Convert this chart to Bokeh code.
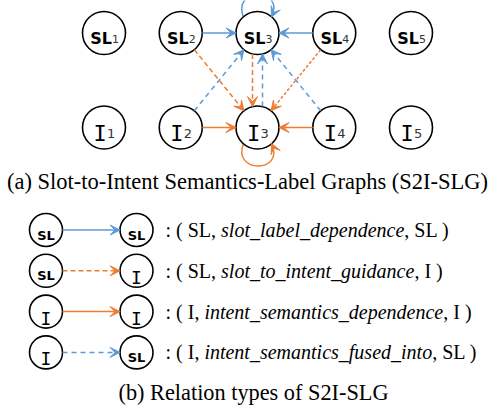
import math
from bokeh.plotting import figure
from bokeh.models import Range1d, Arrow, VeeHead
from bokeh.core.properties import value
from bokeh.embed import file_html
from bokeh.resources import INLINE

# ---------------- data ----------------
top_labels = ["SL", "SL", "SL", "SL", "SL"]
bottom_labels = ["I", "I", "I", "I", "I"]
subscripts = ["1", "2", "3", "4", "5"]

# edges: (source, target, relation)  nodes named "SL<i>" / "I<i>"
edge_src = ["SL2", "SL4", "I2", "I4", "SL2", "SL3", "SL4", "I2", "I3", "I4"]
edge_dst = ["SL3", "SL3", "I3", "I3", "I3", "I3", "I3", "SL3", "SL3", "SL3"]
edge_rel = ["sl_dep", "sl_dep", "int_dep", "int_dep", "s2i", "s2i", "s2i_fine",
            "fused", "fused", "fused"]
self_loops = ["SL3", "I3"]

rel_heads = ["SL", "SL", "I", "I"]
rel_tails = ["SL", "I", "I", "SL"]
rel_kinds = ["sl_dep", "s2i", "int_dep", "fused"]
rel_names = ["slot_label_dependence", "slot_to_intent_guidance",
             "intent_semantics_dependence", "intent_semantics_fused_into"]

caption_a = "(a) Slot-to-Intent Semantics-Label Graphs (S2I-SLG)"
caption_b = "(b) Relation types of S2I-SLG"

# ---------------- styles ----------------
BLUE = "#5B9BD5"
ORANGE = "#ED7D31"
style = {
    "sl_dep": (BLUE, "solid"),
    "int_dep": (ORANGE, "solid"),
    "s2i": (ORANGE, "5 3"),
    "s2i_fine": (ORANGE, "3 2"),
    "fused": (BLUE, "5 4"),
}

# Times / Liberation Serif advance widths (per 1000 em) for text layout
ROMAN_W = {" ": 250, "(": 333, ")": 333, ",": 250, ":": 278, "S": 556, "L": 611, "I": 333}
ITAL_W = {"a": 500, "b": 500, "c": 444, "d": 500, "e": 444, "f": 278, "g": 500, "i": 278,
          "l": 278, "m": 722, "n": 500, "o": 500, "p": 500, "r": 389, "s": 389, "t": 278,
          "u": 500, "_": 500}


def tw(s, table, size):
    return sum(table.get(c, 500) for c in s) * size / 1000.0


p = figure(width=492, height=410, output_backend="svg", toolbar_location=None,
           x_range=Range1d(0, 492), y_range=Range1d(410, 0),
           x_axis_type=None, y_axis_type=None, min_border=0)
p.grid.visible = False
p.outline_line_color = None
p.background_fill_color = "white"

X0, DX = 103.5, 76.75
Y_TOP, Y_BOT = 32.5, 127.0
R = 21.5

pos = {}
for i in range(5):
    pos["SL" + subscripts[i]] = (X0 + DX * i, Y_TOP)
    pos["I" + subscripts[i]] = (X0 + DX * i, Y_BOT)


def arrow(x0, y0, x1, y1, color, dash, size=10, hide_line=False):
    p.add_layout(Arrow(end=VeeHead(size=size, fill_color=color, line_color=color, line_width=1),
                       x_start=x0, y_start=y0, x_end=x1, y_end=y1,
                       line_color=color, line_width=1.5, line_dash=dash,
                       line_alpha=0 if hide_line else 1))


# edges
pairs = set(zip(edge_src, edge_dst))
for s, d, r in zip(edge_src, edge_dst, edge_rel):
    (sx, sy), (dx_, dy_) = pos[s], pos[d]
    vx, vy = dx_ - sx, dy_ - sy
    L = math.hypot(vx, vy)
    ux, uy = vx / L, vy / L
    off = 5.0 if (d, s) in pairs else 0.0
    px, py = -uy, ux
    ox, oy = px * off, py * off
    t = math.sqrt(max(R * R - off * off, 0))
    x0, y0 = sx + ox + ux * t, sy + oy + uy * t
    x1, y1 = dx_ + ox - ux * t, dy_ + oy - uy * t
    color, dash = style[r]
    arrow(x0, y0, x1, y1, color, dash)

# self loops
for n in self_loops:
    cx, cy = pos[n]
    is_sl = n.startswith("SL")
    sgn = -1 if is_sl else 1
    color = BLUE if is_sl else ORANGE
    sx, sy = cx - 14, cy + sgn * 16
    ex, ey = cx + 14, cy + sgn * 16
    depth = 46 if is_sl else 46
    c0 = (cx - 26, cy + sgn * depth)
    c1 = (cx + 28, cy + sgn * depth)
    p.bezier(x0=[sx], y0=[sy], x1=[ex], y1=[ey], cx0=[c0[0]], cy0=[c0[1]],
             cx1=[c1[0]], cy1=[c1[1]], line_color=color, line_width=1.5)
    tx, ty = ex - c1[0], ey - c1[1]
    tl = math.hypot(tx, ty)
    arrow(ex - tx / tl * 3, ey - ty / tl * 3, ex, ey, color, "solid", hide_line=True)

# nodes
xs = [pos[k][0] for k in pos]
ys = [pos[k][1] for k in pos]
p.circle(x=xs, y=ys, radius=R, fill_color="white", line_color="black", line_width=1.6)

SL_FONT = value("DejaVu Sans")
I_FONT = value("DejaVu Sans Mono")

for i in range(5):
    cx, cy = pos["SL" + subscripts[i]]
    p.text(x=[cx - 3], y=[cy + 5.5], text=[top_labels[i]], text_font=SL_FONT,
           text_font_style="bold", text_font_size="16px", text_align="center",
           text_baseline="alphabetic", text_color="black")
    p.text(x=[cx + 8], y=[cy + 5.5], text=[subscripts[i]], text_font=SL_FONT,
           text_font_size="11px", text_align="left", text_baseline="alphabetic",
           text_color="#333333")
    cx, cy = pos["I" + subscripts[i]]
    p.text(x=[cx - 4], y=[cy + 6], text=[bottom_labels[i]], text_font=I_FONT,
           text_font_size="22px", text_align="center", text_baseline="alphabetic",
           text_color="black")
    p.text(x=[cx + 3], y=[cy + 6], text=[subscripts[i]], text_font=SL_FONT,
           text_font_size="13px", text_align="left", text_baseline="alphabetic",
           text_color="#333333")

SERIF = value("Liberation Serif")
p.text(x=[247], y=[181], text=[caption_a], text_font=SERIF, text_font_size="22.5px",
       text_align="center", text_baseline="middle", text_color="black")

# legend / relation types
LX0, LX1, LR = 45.5, 136.0, 16.5
LY0, LDY = 229.5, 40.8
FS = 20.0
TX = 165.0
for k in range(4):
    y = LY0 + LDY * k
    color, dash = style[rel_kinds[k]]
    arrow(LX0 + LR, y, LX1 - LR, y, color, dash)
    p.circle(x=[LX0, LX1], y=[y, y], radius=LR, fill_color="white",
             line_color="black", line_width=1.6)
    for cx, lab in ((LX0, rel_heads[k]), (LX1, rel_tails[k])):
        if lab == "SL":
            p.text(x=[cx], y=[y + 5], text=[lab], text_font=SL_FONT, text_font_style="bold",
                   text_font_size="13px", text_align="center", text_baseline="alphabetic")
        else:
            p.text(x=[cx], y=[y + 6.5], text=[lab], text_font=I_FONT,
                   text_font_size="18px", text_align="center", text_baseline="alphabetic")
    pre = ": ( " + rel_heads[k] + ", "
    suf = ", " + rel_tails[k] + " )"
    x_it = TX + tw(pre, ROMAN_W, FS)
    x_suf = x_it + tw(rel_names[k], ITAL_W, FS)
    p.text(x=[TX], y=[y], text=[pre], text_font=SERIF,
           text_font_size="20px", text_align="left", text_baseline="middle")
    p.text(x=[x_it], y=[y], text=[rel_names[k]], text_font=SERIF,
           text_font_style="italic", text_font_size="20px", text_align="left",
           text_baseline="middle")
    p.text(x=[x_suf], y=[y], text=[suf], text_font=SERIF,
           text_font_size="20px", text_align="left", text_baseline="middle")

p.text(x=[253], y=[392], text=[caption_b], text_font=SERIF, text_font_size="22.3px",
       text_align="center", text_baseline="middle", text_color="black")

open("out.html", "w").write(file_html(p, INLINE))
